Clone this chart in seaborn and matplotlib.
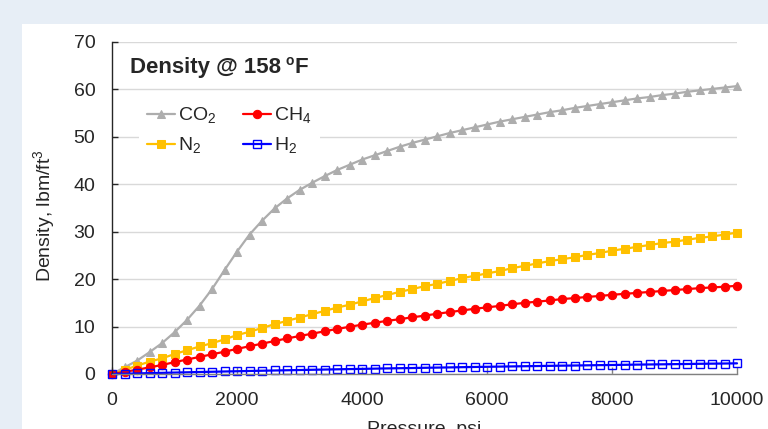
import matplotlib
matplotlib.use("Agg")
import matplotlib.pyplot as plt
from matplotlib.patches import Rectangle
import seaborn as sns
import pandas as pd

# data (psi, lbm/ft3)
pressure = [0, 200, 400, 600, 800, 1000, 1200, 1400, 1600, 1800,
            2000, 2200, 2400, 2600, 2800, 3000, 3200, 3400, 3600, 3800,
            4000, 4200, 4400, 4600, 4800, 5000, 5200, 5400, 5600, 5800,
            6000, 6200, 6400, 6600, 6800, 7000, 7200, 7400, 7600, 7800,
            8000, 8200, 8400, 8600, 8800, 9000, 9200, 9400, 9600, 9800,
            10000]
co2 = [0, 1.4, 2.8, 4.6, 6.5, 8.8, 11.4, 14.4, 17.9, 21.9,
       25.8, 29.4, 32.3, 34.9, 37.0, 38.8, 40.3, 41.7, 43.0, 44.1,
       45.2, 46.1, 47.0, 47.9, 48.7, 49.4, 50.1, 50.8, 51.4, 52.0,
       52.6, 53.2, 53.7, 54.2, 54.7, 55.2, 55.6, 56.1, 56.5, 56.9,
       57.3, 57.7, 58.1, 58.4, 58.8, 59.1, 59.5, 59.8, 60.1, 60.4,
       60.7]
n2 = [0, 0.85, 1.76, 2.6, 3.3, 4.2, 5.0, 5.8, 6.5, 7.3,
      8.2, 8.9, 9.7, 10.5, 11.2, 11.9, 12.6, 13.3, 14.0, 14.6,
      15.3, 16.0, 16.65, 17.3, 17.9, 18.5, 19.0, 19.6, 20.2, 20.7,
      21.2, 21.7, 22.3, 22.8, 23.3, 23.8, 24.2, 24.6, 25.1, 25.5,
      26.0, 26.4, 26.8, 27.2, 27.6, 27.9, 28.3, 28.7, 29.0, 29.4,
      29.8]
ch4 = [0, 0.45, 0.9, 1.4, 1.9, 2.5, 3.05, 3.6, 4.15, 4.7,
       5.3, 5.85, 6.4, 6.95, 7.5, 8.0, 8.5, 9.0, 9.5, 9.95,
       10.4, 10.8, 11.2, 11.55, 11.95, 12.3, 12.7, 13.05, 13.4, 13.75,
       14.05, 14.35, 14.7, 15.0, 15.25, 15.5, 15.8, 16.0, 16.25, 16.45,
       16.7, 16.9, 17.1, 17.3, 17.5, 17.7, 17.9, 18.1, 18.25, 18.4,
       18.6]
h2 = [0, 0.06, 0.12, 0.18, 0.24, 0.30, 0.36, 0.42, 0.47, 0.53,
      0.58, 0.64, 0.69, 0.74, 0.79, 0.84, 0.89, 0.94, 0.99, 1.04,
      1.08, 1.13, 1.18, 1.22, 1.26, 1.31, 1.35, 1.39, 1.44, 1.48,
      1.52, 1.56, 1.60, 1.64, 1.68, 1.72, 1.76, 1.79, 1.83, 1.87,
      1.90, 1.94, 1.98, 2.01, 2.04, 2.08, 2.11, 2.15, 2.18, 2.21,
      2.25]

df = pd.DataFrame({"Pressure": pressure, "CO2": co2, "N2": n2, "CH4": ch4, "H2": h2})

sns.set_style("white")
plt.rcParams["font.family"] = ["Liberation Sans", "DejaVu Sans"]
plt.rcParams["mathtext.fontset"] = "custom"
plt.rcParams["mathtext.rm"] = "Liberation Sans"
plt.rcParams["mathtext.bf"] = "Liberation Sans:bold"

fig = plt.figure(figsize=(7.68, 4.29), dpi=100, facecolor="#E7EEF6")
# white card behind the chart
fig.patches.append(Rectangle((22 / 768, 0), 1, 1 - 24 / 429, transform=fig.transFigure,
                             facecolor="white", edgecolor="none", zorder=-1))
ax = fig.add_axes([112 / 768, 1 - 374 / 429, 625 / 768, 332 / 429])
ax.set_facecolor("none")

series = [
    ("CO2", "CO$_2$", "#ADADAD", "^", 6, {}),
    ("N2", "N$_2$", "#FFC000", "s", 5.5, {}),
    ("CH4", "CH$_4$", "#FF0000", "o", 6, {}),
    ("H2", "H$_2$", "#0000FF", "s", 5.2, {"markerfacecolor": "none", "markeredgewidth": 1}),
]
for col, label, color, marker, ms, extra in series:
    sns.lineplot(data=df, x="Pressure", y=col, ax=ax, color=color, marker=marker,
                 markersize=ms, markeredgecolor=color, linewidth=1.6, label=label,
                 clip_on=False, **extra)

ax.set_xlim(0, 10000)
ax.set_ylim(0, 70)
ax.set_xticks([0, 2000, 4000, 6000, 8000, 10000])
ax.set_yticks([0, 10, 20, 30, 40, 50, 60, 70])
ax.yaxis.grid(True, color="#D9D9D9", linewidth=1)
ax.set_axisbelow(True)

for s in ["top", "right"]:
    ax.spines[s].set_visible(False)
ax.spines["left"].set_color("#262626")
ax.spines["left"].set_linewidth(1)
ax.spines["bottom"].set_color("#808080")
ax.spines["bottom"].set_linewidth(1)

ax.tick_params(axis="y", direction="in", length=4, width=1, color="#262626",
               labelsize=14, labelcolor="#262626", pad=12, left=True)
ax.tick_params(axis="x", direction="in", length=5, width=1, color="#808080",
               labelsize=14, labelcolor="#262626", pad=13, bottom=True)

ax.set_xlabel("Pressure, psi", fontsize=14, color="#262626")
ax.set_ylabel("Density, lbm/ft$^3$", fontsize=14, color="#262626")
ax.xaxis.set_label_coords(0.5, -0.143)
ax.yaxis.set_label_coords(-0.086, 0.476)

# title with a small raised "o" for degrees
t1 = ax.text(0.0288, 0.9066, "Density @ 158", transform=ax.transAxes,
             fontsize=16, fontweight="bold", color="#262626", va="baseline", ha="left")
t2 = ax.annotate("o", xy=(1, 1), xycoords=t1, xytext=(3.5, 2), textcoords="offset points",
                 fontsize=10, fontweight="bold", color="#262626", va="top", ha="left")
ax.annotate("F", xy=(1, 0), xycoords=(t2, t1), xytext=(0.5, 0), textcoords="offset points",
            fontsize=16, fontweight="bold", color="#262626", va="bottom", ha="left")

h, l = ax.get_legend_handles_labels()
leg = ax.legend(h, l, ncol=2, loc="upper left", bbox_to_anchor=(0.043, 0.831),
                borderaxespad=0, fontsize=14, frameon=True, framealpha=1,
                handlelength=1.45, handletextpad=0.15, columnspacing=1.4,
                labelspacing=0.5, borderpad=0.4)
leg.get_frame().set_facecolor("white")
leg.get_frame().set_edgecolor("none")

fig.savefig("out.png", dpi=100, facecolor=fig.get_facecolor())
